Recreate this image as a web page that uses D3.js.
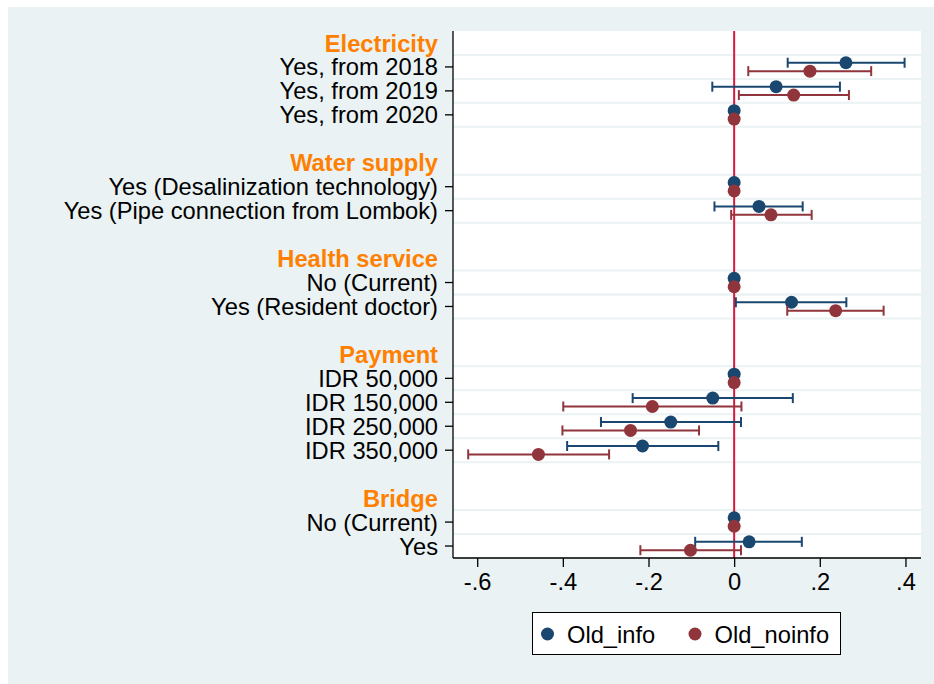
<!DOCTYPE html>
<html>
<head>
<meta charset="utf-8">
<script src="https://cdn.jsdelivr.net/npm/d3@7"></script>
<style>
  html, body { margin: 0; padding: 0; background: #ffffff; }
  svg { display: block; font-family: "Liberation Sans", Arial, Helvetica, sans-serif; }
</style>
</head>
<body>
<svg id="chart" width="934" height="684"></svg>
<script>
// Attribute groups and their levels (top to bottom)
const groupNames = ["Electricity", "Water supply", "Health service", "Payment", "Bridge"];
const categories = [
  "Yes, from 2018", "Yes, from 2019", "Yes, from 2020",
  "Yes (Desalinization technology)", "Yes (Pipe connection from Lombok)",
  "No (Current)", "Yes (Resident doctor)",
  "IDR 50,000", "IDR 150,000", "IDR 250,000", "IDR 350,000",
  "No (Current)", "Yes"
];
const categoryGroup = [0, 0, 0, 1, 1, 2, 2, 3, 3, 3, 3, 4, 4];

// Old_info: coefficient and 95% interval (null = reference level)
const infoCoef = [0.261, 0.098, 0, 0, 0.058, 0, 0.134, 0, -0.050, -0.148, -0.214, 0, 0.035];
const infoLow  = [0.125, -0.051, null, null, -0.046, null, 0.004, null, -0.237, -0.311, -0.390, null, -0.091];
const infoHigh = [0.398, 0.247, null, null, 0.160, null, 0.262, null, 0.137, 0.016, -0.037, null, 0.158];

// Old_noinfo: coefficient and 95% interval
const noinfoCoef = [0.177, 0.139, 0, 0, 0.086, 0, 0.237, 0, -0.191, -0.242, -0.457, 0, -0.102];
const noinfoLow  = [0.033, 0.011, null, null, -0.007, null, 0.124, null, -0.399, -0.401, -0.621, null, -0.219];
const noinfoHigh = [0.320, 0.268, null, null, 0.181, null, 0.349, null, 0.017, -0.082, -0.292, null, 0.016];

const seriesNames = ["Old_info", "Old_noinfo"];
const seriesColors = ["#1a476f", "#90353b"];

const xTicks = [-0.6, -0.4, -0.2, 0, 0.2, 0.4];
const xTickLabels = ["-.6", "-.4", "-.2", "0", ".2", ".4"];

// ---- layout ----
const W = 934, H = 684;
const plot = { left: 453, right: 921, top: 31, bottom: 558 };
const fontSize = 23.7;

const svg = d3.select("#chart");

// outer background
svg.append("rect").attr("x", 8).attr("y", 7).attr("width", W - 8).attr("height", H - 7)
  .attr("fill", "#eaf2f3");
// plot region
svg.append("rect").attr("x", plot.left).attr("y", plot.top)
  .attr("width", plot.right - plot.left).attr("height", plot.bottom - plot.top)
  .attr("fill", "#ffffff");

// Build the row sequence: gap row between groups, a header row, then item rows
const rows = [];
groupNames.forEach((g, gi) => {
  if (gi > 0) rows.push({ type: "gap" });
  rows.push({ type: "header", label: g, group: gi });
  categories.forEach((c, ci) => {
    if (categoryGroup[ci] === gi) rows.push({ type: "item", label: c, group: gi, idx: ci });
  });
});

const y = d3.scaleBand().domain(d3.range(rows.length)).range([plot.top, plot.bottom]).padding(0);
const x = d3.scaleLinear().domain([-0.6565, 0.4363]).range([plot.left, plot.right]);

// horizontal grid lines bounding each item row
const gridYs = new Set();
rows.forEach((r, i) => {
  if (r.type === "item") {
    gridYs.add(y(i));
    gridYs.add(y(i) + y.bandwidth());
  }
});
svg.append("g").selectAll("line").data([...gridYs]).join("line")
  .attr("x1", plot.left).attr("x2", plot.right)
  .attr("y1", d => d).attr("y2", d => d)
  .attr("stroke", "#eaf2f3").attr("stroke-width", 2);

// reference line at zero
svg.append("line")
  .attr("x1", x(0)).attr("x2", x(0))
  .attr("y1", plot.top).attr("y2", plot.bottom)
  .attr("stroke", "#d7193c").attr("stroke-width", 2);

// y axis with category tick labels
const itemRows = rows.map((r, i) => ({ ...r, row: i })).filter(r => r.type === "item");
const yAxis = svg.append("g");
yAxis.append("line").attr("x1", plot.left).attr("x2", plot.left)
  .attr("y1", plot.top).attr("y2", plot.bottom)
  .attr("stroke", "#000").attr("stroke-width", 1.3);
yAxis.selectAll(".ytick").data(itemRows).join("line")
  .attr("x1", plot.left - 8).attr("x2", plot.left)
  .attr("y1", d => y(d.row) + y.bandwidth() / 2).attr("y2", d => y(d.row) + y.bandwidth() / 2)
  .attr("stroke", "#000").attr("stroke-width", 1.3);
yAxis.selectAll(".ylab").data(itemRows).join("text")
  .attr("x", plot.left - 15)
  .attr("y", d => y(d.row) + y.bandwidth() / 2)
  .attr("dy", "0.36em")
  .attr("text-anchor", "end")
  .attr("font-size", fontSize)
  .attr("fill", "#000")
  .text(d => d.label);

// group headers
const headerRows = rows.map((r, i) => ({ ...r, row: i })).filter(r => r.type === "header");
svg.append("g").selectAll("text").data(headerRows).join("text")
  .attr("x", plot.left - 15)
  .attr("y", d => y(d.row) + y.bandwidth() / 2)
  .attr("dy", "0.36em")
  .attr("text-anchor", "end")
  .attr("font-size", fontSize)
  .attr("font-weight", "bold")
  .attr("fill", "#ff8000")
  .text(d => d.label);

// x axis
const xAxis = svg.append("g").attr("transform", `translate(0,${plot.bottom})`)
  .call(d3.axisBottom(x).tickValues(xTicks).tickSize(9).tickPadding(6)
    .tickFormat((d, i) => xTickLabels[i]));
xAxis.select(".domain").attr("stroke", "#000").attr("stroke-width", 1.3)
  .attr("d", `M${plot.left},0H${plot.right}`);
xAxis.selectAll(".tick line").attr("stroke", "#000").attr("stroke-width", 1.3);
xAxis.selectAll(".tick text").attr("font-size", fontSize).attr("fill", "#000")
  .attr("font-family", "Liberation Sans, Arial, sans-serif");

// estimates
const series = [
  { coef: infoCoef, low: infoLow, high: infoHigh, offset: -4.2 },
  { coef: noinfoCoef, low: noinfoLow, high: noinfoHigh, offset: 4.2 }
];
const capHalf = 5;
series.forEach((s, si) => {
  const g = svg.append("g");
  const pts = itemRows.map(r => ({
    cy: y(r.row) + y.bandwidth() / 2 + s.offset,
    v: s.coef[r.idx], lo: s.low[r.idx], hi: s.high[r.idx]
  }));
  const withCI = pts.filter(p => p.lo !== null);
  g.selectAll(".ci").data(withCI).join("line")
    .attr("x1", d => x(d.lo)).attr("x2", d => x(d.hi))
    .attr("y1", d => d.cy).attr("y2", d => d.cy)
    .attr("stroke", seriesColors[si]).attr("stroke-width", 2);
  ["lo", "hi"].forEach(k => {
    g.selectAll(".cap-" + k).data(withCI).join("line")
      .attr("x1", d => x(d[k])).attr("x2", d => x(d[k]))
      .attr("y1", d => d.cy - capHalf).attr("y2", d => d.cy + capHalf)
      .attr("stroke", seriesColors[si]).attr("stroke-width", 2);
  });
  g.selectAll("circle").data(pts).join("circle")
    .attr("cx", d => x(d.v)).attr("cy", d => d.cy).attr("r", 6.5)
    .attr("fill", seriesColors[si]);
});

// legend
const legend = svg.append("g");
legend.append("rect").attr("x", 532.5).attr("y", 612.5).attr("width", 308).attr("height", 42)
  .attr("fill", "#ffffff").attr("stroke", "#000").attr("stroke-width", 1);
const legendX = [547.5, 695];
seriesNames.forEach((n, i) => {
  legend.append("circle").attr("cx", legendX[i]).attr("cy", 634).attr("r", 6.5)
    .attr("fill", seriesColors[i]);
  legend.append("text").attr("x", legendX[i] + 19.5).attr("y", 634).attr("dy", "0.36em")
    .attr("font-size", fontSize).attr("fill", "#000").text(n);
});
</script>
</body>
</html>
